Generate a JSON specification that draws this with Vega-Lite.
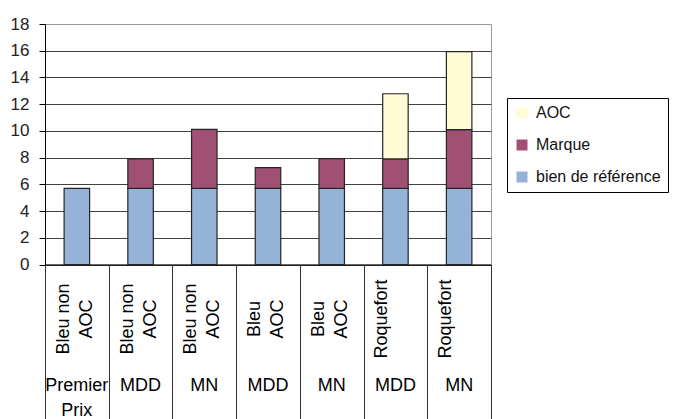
{
  "$schema": "https://vega.github.io/schema/vega-lite/v6.json",
  "width": 446,
  "height": 240.5,
  "autosize": {"type": "none"},
  "padding": {"left": 45, "top": 24, "right": 183, "bottom": 154.5},
  "config": {"font": "Liberation Sans", "view": {"stroke": "#999", "strokeWidth": 1}},
  "data": {
    "values": [
      {"categorie": "Bleu non AOC|Premier Prix", "serie": "bien de référence", "valeur": 5.7},
      {"categorie": "Bleu non AOC|MDD", "serie": "bien de référence", "valeur": 5.7},
      {"categorie": "Bleu non AOC|MDD", "serie": "Marque", "valeur": 2.2},
      {"categorie": "Bleu non AOC|MN", "serie": "bien de référence", "valeur": 5.7},
      {"categorie": "Bleu non AOC|MN", "serie": "Marque", "valeur": 4.42},
      {"categorie": "Bleu AOC|MDD", "serie": "bien de référence", "valeur": 5.7},
      {"categorie": "Bleu AOC|MDD", "serie": "Marque", "valeur": 1.55},
      {"categorie": "Bleu AOC|MN", "serie": "bien de référence", "valeur": 5.7},
      {"categorie": "Bleu AOC|MN", "serie": "Marque", "valeur": 2.22},
      {"categorie": "Roquefort|MDD", "serie": "bien de référence", "valeur": 5.7},
      {"categorie": "Roquefort|MDD", "serie": "Marque", "valeur": 2.2},
      {"categorie": "Roquefort|MDD", "serie": "AOC", "valeur": 4.88},
      {"categorie": "Roquefort|MN", "serie": "bien de référence", "valeur": 5.7},
      {"categorie": "Roquefort|MN", "serie": "Marque", "valeur": 4.39},
      {"categorie": "Roquefort|MN", "serie": "AOC", "valeur": 5.84}
    ]
  },
  "layer": [
    {
      "mark": {"type": "bar", "stroke": "#262626", "strokeWidth": 1.2},
      "encoding": {
        "x": {
          "field": "categorie", "type": "nominal", "sort": null,
          "scale": {"paddingInner": 0.6, "paddingOuter": 0.3},
          "axis": {
            "orient": "bottom", "title": null, "ticks": false, "domain": true, "domainColor": "#000", "domainWidth": 1,
            "labelAngle": -90, "labelAlign": "center", "labelBaseline": "middle", "labelPadding": 54, "labelOffset": -13,
            "labelFontSize": 18, "labelLineHeight": 23, "labelColor": "#000", "labelOverlap": false,
            "labelExpr": "split(replace(split(datum.value,'|')[0],' AOC','~AOC'),'~')"
          }
        },
        "y": {
          "field": "valeur", "type": "quantitative", "stack": "zero",
          "scale": {"domain": [0, 18], "nice": false},
          "axis": {
            "title": null, "values": [0, 2, 4, 6, 8, 10, 12, 14, 16, 18], "grid": true,
            "gridColor": {"condition": {"test": "datum.value === 18", "value": "#999"}, "value": "#404040"},
            "gridWidth": 1, "tickSize": 6, "tickColor": "#000", "domainColor": "#000",
            "labelFontSize": 17, "labelPadding": 10, "labelColor": "#222"
          }
        },
        "color": {
          "field": "serie", "type": "nominal",
          "scale": {"domain": ["AOC", "Marque", "bien de référence"], "range": ["#FFFCD5", "#A05073", "#95B3D7"]},
          "legend": {
            "title": null, "orient": "none", "legendX": 462, "legendY": 74,
            "symbolType": "square", "symbolSize": 121, "symbolStrokeWidth": 0,
            "labelFontSize": 16, "labelColor": "#111", "labelOffset": 6,
            "rowPadding": 16, "padding": 7, "strokeColor": "#000", "fillColor": "#fff"
          }
        },
        "order": {"field": "serie", "sort": "descending"}
      }
    },
    {
      "mark": {"type": "rule", "strokeOpacity": 0},
      "encoding": {
        "x": {
          "field": "categorie", "type": "nominal", "sort": null,
          "scale": {"paddingInner": 0, "paddingOuter": 0},
          "axis": {
            "orient": "bottom", "title": null, "labels": false, "ticks": true, "tickBand": "extent",
            "tickSize": 155, "tickColor": "#333", "tickWidth": 1, "domain": false, "grid": false
          }
        }
      }
    },
    {
      "mark": {"type": "rule", "strokeOpacity": 0},
      "encoding": {
        "x": {
          "field": "categorie", "type": "nominal", "sort": null,
          "scale": {"paddingInner": 0.6, "paddingOuter": 0.3},
          "axis": {
            "orient": "bottom", "title": null, "ticks": false, "domain": false, "grid": false,
            "labelAngle": 0, "labelBaseline": "top", "labelPadding": 112, "labelFontSize": 18,
            "labelLineHeight": 25, "labelColor": "#000", "labelOverlap": false,
            "labelExpr": "split(split(datum.value,'|')[1],' ')"
          }
        }
      }
    }
  ],
  "resolve": {"scale": {"x": "independent"}, "axis": {"x": "independent"}}
}
